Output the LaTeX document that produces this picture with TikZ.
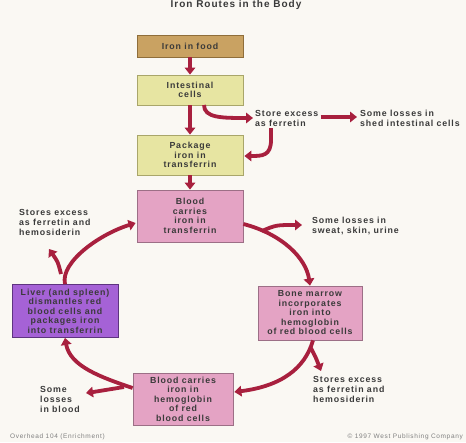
\documentclass[tikz,border=0pt]{standalone}
\usepackage{fontspec}
\setmainfont{Liberation Sans}[LetterSpace=10]
\usetikzlibrary{arrows.meta}
\definecolor{bg}{HTML}{FAF8F3}
\definecolor{tan}{HTML}{C9A262}
\definecolor{tanb}{HTML}{8F6E3A}
\definecolor{ylw}{HTML}{E7E5A2}
\definecolor{ylwb}{HTML}{A9A66A}
\definecolor{pnk}{HTML}{E4A3C4}
\definecolor{pnkb}{HTML}{9C6F86}
\definecolor{prp}{HTML}{A562D6}
\definecolor{prpb}{HTML}{5E3480}
\definecolor{arr}{HTML}{A8203E}
\definecolor{txt}{HTML}{3A3A3A}
\tikzset{
  box/.style={draw=#1, line width=0.8pt, align=center, text=txt, inner sep=2pt,
    font=\fontsize{8.8}{9.5}\selectfont\bfseries},
  lbl/.style={align=left, text=txt, inner sep=0pt, font=\fontsize{8.8}{10}\selectfont\bfseries},
  flow/.style={draw=arr, line width=3.8pt, -{Triangle[width=10.5pt,length=7pt]}},
  foot/.style={text=gray, inner sep=0pt, font=\fontsize{6.5}{7}\selectfont}
}
\begin{document}
\begin{tikzpicture}[x=1pt,y=-1pt]
\fill[bg] (0,0) rectangle (466,442);
\useasboundingbox (0,0) rectangle (466,442);
\node[text=txt, inner sep=0pt, font=\fontsize{10}{11}\selectfont\bfseries] (title) at (236,5) {Iron Routes in the Body};

\node[box=tanb, fill=tan, minimum width=106pt, minimum height=22pt] (food) at (190,46) {Iron in food};
\node[box=ylwb, fill=ylw, minimum width=106pt, minimum height=30pt] (intest) at (190,90) {Intestinal\\cells};
\node[box=ylwb, fill=ylw, minimum width=106pt, minimum height=40pt] (pack) at (190,155) {Package\\iron in\\transferrin};
\node[box=pnkb, fill=pnk, minimum width=106pt, minimum height=52pt] (bloodT) at (190,216) {Blood\\carries\\iron in\\transferrin};
\node[box=pnkb, fill=pnk, minimum width=104pt, minimum height=54pt] (marrow) at (310,313) {Bone marrow\\incorporates\\iron into\\hemoglobin\\of red blood cells};
\node[box=pnkb, fill=pnk, minimum width=100pt, minimum height=52pt] (hemo) at (183,399) {Blood carries\\iron in\\hemoglobin\\of red\\blood cells};
\node[box=prpb, fill=prp, minimum width=106pt, minimum height=53pt] (liver) at (65,311) {Liver (and spleen)\\dismantles red\\blood cells and\\packages iron\\into transferrin};

\node[lbl, anchor=west] (store1) at (255,118) {Store excess\\as ferretin};
\node[lbl, anchor=west] (loss1) at (360,118) {Some losses in\\shed intestinal cells};
\node[lbl, anchor=west] (sweat) at (312,226) {Some losses in\\sweat, skin, urine};
\node[lbl, anchor=north west] (stores3) at (313,376) {Stores excess\\as ferretin and\\hemosiderin};
\node[lbl, anchor=north west] (stores2) at (19,209) {Stores excess\\as ferretin and\\hemosiderin};
\node[lbl, anchor=west] (lossb) at (40,399) {Some\\losses\\in blood};

\node[foot, anchor=west] (ovh) at (10,437) {Overhead 104 (Enrichment)};
\node[foot, anchor=east] (copy) at (463,437) {© 1997 West Publishing Company};

% straight flows
\draw[flow] (food.south) -- (intest.north);
\draw[flow] (intest.south) -- (pack.north);
\draw[flow] (pack.south) -- (bloodT.north);
\draw[flow] ([xshift=2pt]store1.east |- 0,117) -- ([xshift=-3pt]loss1.west |- 0,117);

% intestinal -> store excess
\coordinate (i1) at (204,105);
\draw[flow] (i1) .. controls (204,118) and (222,118) .. ([xshift=-2pt]store1.west |- 0,118);
% store excess -> package
\coordinate (s2) at (271,128);
\draw[flow] (s2) -- (271,140) .. controls (271,156) and (262,156) .. ([xshift=1pt]pack.east |- 0,156);

% cycle
\coordinate (bT) at (bloodT.east |- 0,224);
\draw[flow] (bT) .. controls (282,234) and (306,258) .. (marrow.north);
\coordinate (j1) at (262,231);
\draw[flow] (j1) .. controls (276,225) .. ([xshift=-10pt]sweat.west |- 0,225);

\coordinate (mB) at ([xshift=3pt]marrow.south);
\draw[flow] (mB) .. controls (305,368) and (282,386) .. ([xshift=1pt]hemo.east |- 0,392);
\coordinate (j2) at (311,348);
\draw[flow] (j2) .. controls (316,358) .. (321,371);

\coordinate (hL) at (hemo.west |- 0,388);
\draw[flow] (hL) .. controls (100,377) and (70,366) .. (liver.south);
\coordinate (j3) at (124,387);
\draw[flow] (j3) .. controls (108,390) .. (86,393);

\coordinate (lT) at (liver.north);
\draw[flow] (lT) .. controls (60,262) and (100,234) .. ([xshift=-1pt]bloodT.west |- 0,223);
\coordinate (j4) at (61,274);
\draw[flow] (j4) .. controls (58,262) .. (49,249);
\end{tikzpicture}
\end{document}
